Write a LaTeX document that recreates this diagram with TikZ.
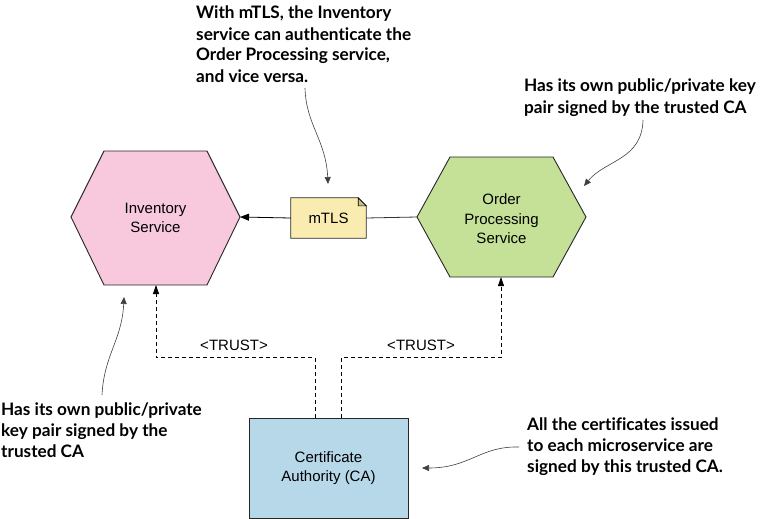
\documentclass[tikz,border=0pt]{standalone}
\usepackage{fontspec}
\setmainfont{Liberation Sans}
\newfontfamily\annfont{Lato}[Ligatures=NoCommon]
\usetikzlibrary{arrows.meta,calc}
\definecolor{pinkfill}{RGB}{248,200,221}
\definecolor{greenfill}{RGB}{197,224,151}
\definecolor{notefill}{RGB}{250,236,176}
\definecolor{cafill}{RGB}{183,216,233}
\tikzset{
  hexa/.style={draw=black!85,line width=0.9pt,line join=miter},
  svc/.style={font=\fontsize{15}{19.5}\selectfont,align=center,inner sep=0pt},
  ann/.style={font=\annfont\bfseries\fontsize{17.2}{21}\selectfont,align=left,inner sep=0pt,anchor=base west},
  annarrow/.style={draw=black!75,line width=0.6pt,-{Triangle[length=7pt,width=6pt]}},
  trust/.style={dashed,dash pattern=on 4pt off 3pt,line width=0.8pt,-{Triangle[length=9pt,width=6pt]}},
  solidarrow/.style={line width=0.8pt,-{Triangle[length=9pt,width=7pt]}},
  tlabel/.style={font=\fontsize{15}{18}\selectfont,inner sep=0pt}
}
\begin{document}
\begin{tikzpicture}[x=1pt,y=-1pt]
\useasboundingbox (0,0) rectangle (760,519);
% Inventory hexagon
\coordinate (invL) at (71,217);
\coordinate (invR) at (240,217);
\coordinate (invB) at (156,285);
\filldraw[hexa,fill=pinkfill] (invL) -- (104,151) -- (207,151) -- (invR) -- (207,285) -- (104,285) -- cycle;
\node[svc] (inv) at (155.5,218) {Inventory\\Service};
% Order hexagon
\coordinate (ordL) at (417,217);
\coordinate (ordR) at (586,217);
\coordinate (ordB) at (501,277);
\filldraw[hexa,fill=greenfill] (ordL) -- (450,157) -- (553,157) -- (ordR) -- (553,277) -- (450,277) -- cycle;
\node[svc] (ord) at (501.5,219) {Order\\Processing\\Service};
% mTLS note
\node[minimum width=75pt,minimum height=40pt,inner sep=0pt] (mtls) at (328.5,218) {};
\filldraw[hexa,fill=notefill,line width=0.8pt] (mtls.south west) -- (mtls.north west) -- ($(mtls.north east)+(-8,0)$) -- ($(mtls.north east)+(0,8)$) -- (mtls.south east) -- cycle;
\filldraw[fill=notefill!80!black,line width=0.6pt] ($(mtls.north east)+(-8,0)$) -- ($(mtls.north east)+(-8,8)$) -- ($(mtls.north east)+(0,8)$) -- cycle;
\node[inner sep=0pt,font=\fontsize{15}{18}\selectfont] (mtlstext) at (mtls) {mTLS};
\draw[solidarrow] (mtls.west) -- (invR);
\draw[line width=0.8pt,draw=black!80] (mtls.east) -- (ordL);
% CA box
\node[draw=black!85,line width=0.9pt,fill=cafill,minimum width=159pt,minimum height=100pt,inner sep=0pt,svc] (ca) at (328.5,468) {Certificate\\Authority (CA)};
% trust dashed connectors
\draw[trust] ($(ca.north)+(-13.5,0)$) -- ++(0,-60) -| (invB);
\draw[trust] ($(ca.north)+(12.5,0)$) -- ++(0,-60) -| (ordB);
\node[tlabel] (t1) at (234,345) {<TRUST>};
\node[tlabel] (t2) at (421,345) {<TRUST>};
% annotations (anchor = baseline of last line)
\node[ann] (a1) at (196,82) {With mTLS, the Inventory\\service can authenticate the\\Order Processing service,\\and vice versa.};
\node[ann] (a2) at (524,113) {Has its own public/private key\\pair signed by the trusted CA};
\node[ann] (a3) at (1,457) {Has its own public/private\\key pair signed by the\\trusted CA};
\node[ann] (a4) at (527,472) {All the certificates issued\\to each microservice are\\signed by this trusted CA.};
\coordinate (a1s) at (305,88);
\coordinate (a1e) at (328,184);
\draw[annarrow] (a1s) .. controls (306,125) and (326,140) .. (a1e);
\coordinate (a2s) at (643,120);
\coordinate (a2e) at (584,186);
\draw[annarrow] (a2s) .. controls (642,160) and (605,160) .. (a2e);
\coordinate (a3s) at (102,395);
\coordinate (a3e) at (124,297);
\draw[annarrow] (a3s) .. controls (104,355) and (122,340) .. (a3e);
\coordinate (a4s) at (519,447);
\coordinate (a4e) at (422,468);
\draw[annarrow] (a4s) .. controls (480,446) and (470,468) .. (a4e);
\end{tikzpicture}
\end{document}
